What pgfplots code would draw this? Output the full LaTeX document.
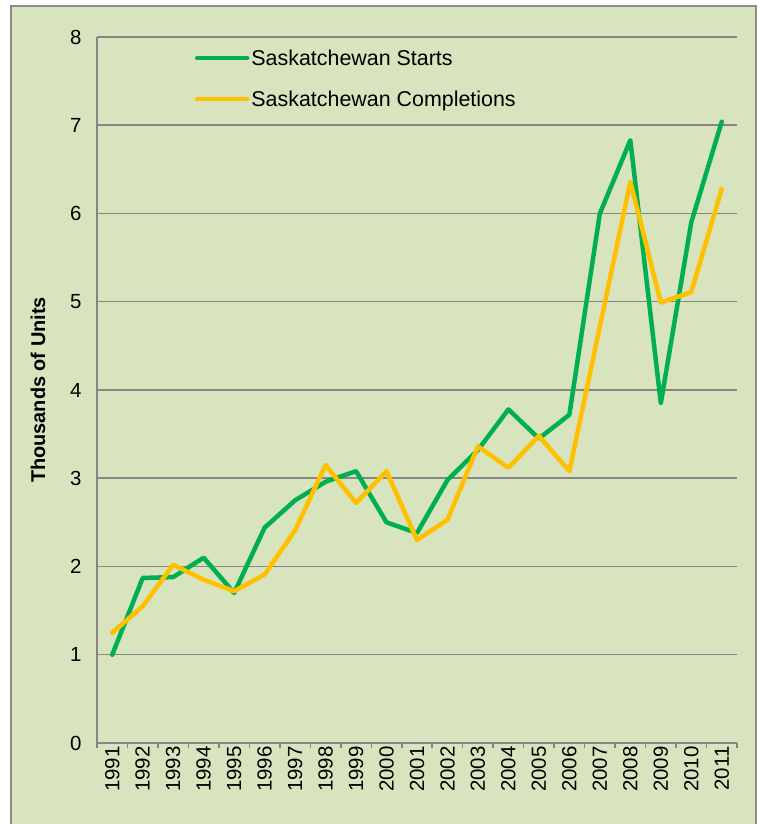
\documentclass[border=0pt]{standalone}
\usepackage{pgfplots}
\usepackage{pgfplotstable}
\pgfplotsset{compat=1.18}
\usepackage{fontspec}
\setmainfont{Liberation Sans}
\definecolor{panel}{HTML}{D7E4BD}
\definecolor{framec}{HTML}{8C8C8C}
\definecolor{gridc}{HTML}{868686}
\definecolor{starts}{HTML}{00B050}
\definecolor{compl}{HTML}{FFC000}

% idx 1 = 1991 ... 21 = 2011, values in thousands of units
\pgfplotstableread{
idx starts compl
1  1.00 1.25
2  1.87 1.55
3  1.88 2.02
4  2.10 1.85
5  1.70 1.72
6  2.44 1.91
7  2.75 2.41
8  2.96 3.15
9  3.08 2.72
10 2.50 3.08
11 2.38 2.30
12 2.98 2.53
13 3.32 3.36
14 3.78 3.12
15 3.45 3.48
16 3.72 3.08
17 6.00 4.72
18 6.83 6.36
19 3.85 4.99
20 5.90 5.11
21 7.04 6.28
}\housing

\begin{document}
\begin{tikzpicture}
\useasboundingbox (0bp,0bp) rectangle (760bp,824bp);
\fill[white] (0bp,0bp) rectangle (760bp,824bp);
\filldraw[fill=panel, draw=framec, line width=2bp] (11bp,-5bp) rectangle (756bp,818bp);
\begin{axis}[
  at={(97bp,81bp)}, anchor=south west,
  scale only axis, width=640bp, height=706bp,
  xmin=0.5, xmax=21.5, ymin=0, ymax=8,
  axis x line=bottom, axis y line=left,
  axis line style={draw=gridc, line width=1.5bp, -},
  ytick={0,...,8},
  ymajorgrids, grid style={draw=gridc, line width=1.5bp},
  xtick={1,...,21},
  xticklabels={1991,1992,1993,1994,1995,1996,1997,1998,1999,2000,2001,2002,2003,2004,2005,2006,2007,2008,2009,2010,2011},
  minor xtick={0.5,1.5,...,21.5},
  major tick length=0pt, minor tick length=5bp,
  tick align=outside,
  every tick/.style={draw=gridc, line width=1.5bp},
  /pgf/number format/assume math mode=true,
  tick label style={font=\fontsize{20.5}{24}\selectfont},
  xticklabel style={rotate=90, anchor=east},
  yticklabel style={xshift=-12bp},
  ylabel={Thousands of Units},
  ylabel style={font=\fontsize{20}{24}\selectfont\bfseries, at={(axis description cs:-0.092,0.5)}, anchor=center},
  legend cell align=left,
  legend style={draw=none, fill=none, at={(0.148,0.988)}, anchor=north west,
    font=\fontsize{21.5}{25}\selectfont, row sep=20bp,
    nodes={inner sep=2bp}},
  legend image code/.code={\draw[#1] (2bp,0bp) -- (52bp,0bp);},
]
\addplot[starts, line width=4.5bp, line join=round, line cap=round] table[x=idx, y=starts] {\housing};
\addlegendentry{Saskatchewan Starts}
\addplot[compl, line width=4.5bp, line join=round, line cap=round] table[x=idx, y=compl] {\housing};
\addlegendentry{Saskatchewan Completions}
\end{axis}
\end{tikzpicture}
\end{document}
